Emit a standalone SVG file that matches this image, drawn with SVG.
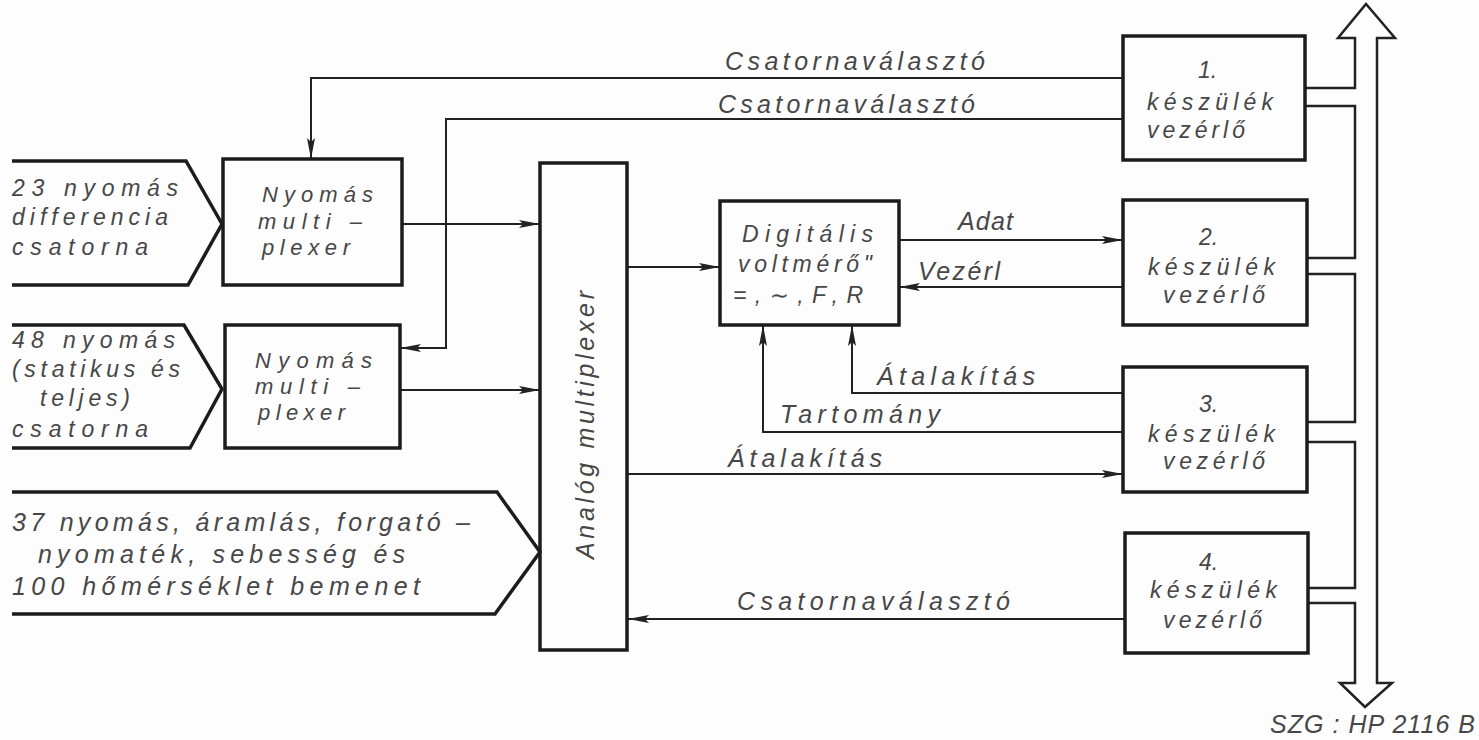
<svg xmlns="http://www.w3.org/2000/svg" width="1479" height="740" viewBox="0 0 1479 740">
<defs>
<style>
.box{fill:none;stroke:#1c1c1c;stroke-width:3.5}
.in{fill:none;stroke:#1c1c1c;stroke-width:3.5;stroke-linejoin:miter}
.c{fill:none;stroke:#222;stroke-width:2}
.bus{fill:none;stroke:#222;stroke-width:2.5;stroke-linejoin:miter}
text{font-family:"Liberation Sans","DejaVu Sans",sans-serif;font-style:italic;font-size:25px;fill:#474747}
.s{font-size:22px}
.m{font-size:23px}
</style>
<marker id="ar" markerUnits="userSpaceOnUse" markerWidth="22" markerHeight="10" refX="21" refY="4.5" orient="auto">
<path d="M0,0.5 L21,4.5 L0,8.5 L4,4.5 z" fill="#222"/>
</marker>
</defs>
<rect width="1479" height="740" fill="#fdfdfd"/>

<g id="connectors">
<path class="c" d="M402,224 H540" marker-end="url(#ar)"/>
<path class="c" d="M400,390 H540" marker-end="url(#ar)"/>
<path class="c" d="M627,267 H720" marker-end="url(#ar)"/>
<path class="c" d="M899,240 H1123" marker-end="url(#ar)"/>
<path class="c" d="M1123,287 H899" marker-end="url(#ar)"/>
<path class="c" d="M1123,393 H852 V325" marker-end="url(#ar)"/>
<path class="c" d="M1123,432 H763 V325" marker-end="url(#ar)"/>
<path class="c" d="M627,474 H1123" marker-end="url(#ar)"/>
<path class="c" d="M1125,619 H628" marker-end="url(#ar)"/>
<path class="c" d="M1123,78 H311 V159" marker-end="url(#ar)"/>
<path class="c" d="M1123,119 H446 V348 H400" marker-end="url(#ar)"/>
<text x="725" y="70" textLength="260" lengthAdjust="spacing">Csatornaválasztó</text>
<text x="718" y="113" textLength="257" lengthAdjust="spacing">Csatornaválasztó</text>
<text x="958" y="230" textLength="55" lengthAdjust="spacing">Adat</text>
<text x="918" y="280" textLength="82" lengthAdjust="spacing">Vezérl</text>
<text x="877" y="385" textLength="158" lengthAdjust="spacing">Átalakítás</text>
<text x="780" y="423" textLength="160" lengthAdjust="spacing">Tartomány</text>
<text x="728" y="467" textLength="154" lengthAdjust="spacing">Átalakítás</text>
<text x="737" y="610" textLength="273" lengthAdjust="spacing">Csatornaválasztó</text>
</g>

<g id="bus">
<path class="bus" d="M1305,88 H1355 V38 H1338 L1366,4 L1395,38 H1377 V683 H1392 L1365,707 L1340,683 H1355 V603 H1308"/>
<path class="bus" d="M1305,106 H1355 V258 H1307"/>
<path class="bus" d="M1307,274 H1355 V422 H1307"/>
<path class="bus" d="M1307,442 H1355 V588 H1308"/>
<text x="1270" y="733" textLength="205" lengthAdjust="spacing">SZG : HP 2116 B</text>
</g>

<g id="input1">
<path class="in" d="M12,161 H186 L222,224 L188,285 H12"/>
<text class="m" x="12" y="196" textLength="166" lengthAdjust="spacing">23 nyomás</text>
<text class="m" x="12" y="225" textLength="156" lengthAdjust="spacing">differencia</text>
<text class="m" x="12" y="255" textLength="136" lengthAdjust="spacing">csatorna</text>
</g>

<g id="input2">
<path class="in" d="M12,325 H184 L222,389 L190,448 H12"/>
<text class="m" x="12" y="348" textLength="163" lengthAdjust="spacing">48 nyomás</text>
<text class="m" x="12" y="377" textLength="168" lengthAdjust="spacing">(statikus és</text>
<text class="m" x="40" y="406" textLength="90" lengthAdjust="spacing">teljes)</text>
<text class="m" x="12" y="437" textLength="136" lengthAdjust="spacing">csatorna</text>
</g>

<g id="input3">
<path class="in" d="M12,492 H497 L540,552 L495,614 H12"/>
<text x="12" y="531" textLength="458" lengthAdjust="spacing">37 nyomás, áramlás, forgató –</text>
<text x="38" y="563" textLength="367" lengthAdjust="spacing">nyomaték, sebesség és</text>
<text x="12" y="595" textLength="408" lengthAdjust="spacing">100 hőmérséklet bemenet</text>
</g>

<g id="mux1">
<rect class="box" x="223" y="159" width="179" height="126"/>
<text class="s" x="262" y="202" textLength="111" lengthAdjust="spacing">Nyomás</text>
<text class="s" x="258" y="229" textLength="104" lengthAdjust="spacing">multi –</text>
<text class="s" x="262" y="255" textLength="88" lengthAdjust="spacing">plexer</text>
</g>

<g id="mux2">
<rect class="box" x="225" y="325" width="175" height="123"/>
<text class="s" x="255" y="368" textLength="117" lengthAdjust="spacing">Nyomás</text>
<text class="s" x="255" y="394" textLength="105" lengthAdjust="spacing">multi –</text>
<text class="s" x="258" y="420" textLength="87" lengthAdjust="spacing">plexer</text>
</g>

<g id="analog">
<rect class="box" x="540" y="163" width="87" height="487"/>
<text transform="translate(594,425) rotate(-90)" text-anchor="middle" textLength="268" lengthAdjust="spacing">Analóg multiplexer</text>
</g>

<g id="dvm">
<rect class="box" x="720" y="201" width="179" height="124"/>
<text class="m" x="742" y="242" textLength="131" lengthAdjust="spacing">Digitális</text>
<text class="m" x="738" y="272" textLength="134" lengthAdjust="spacing">voltmérő"</text>
<text class="m" x="733" y="303" textLength="130" lengthAdjust="spacing">=,∼,F,R</text>
</g>

<g id="dev1">
<rect class="box" x="1123" y="36" width="182" height="124"/>
<text class="m" x="1198" y="78">1.</text>
<text class="m" x="1147" y="110" textLength="126" lengthAdjust="spacing">készülék</text>
<text class="m" x="1147" y="138" textLength="98" lengthAdjust="spacing">vezérlő</text>
</g>

<g id="dev2">
<rect class="box" x="1123" y="200" width="184" height="125"/>
<text class="m" x="1199" y="245">2.</text>
<text class="m" x="1148" y="275" textLength="127" lengthAdjust="spacing">készülék</text>
<text class="m" x="1163" y="303" textLength="102" lengthAdjust="spacing">vezérlő</text>
</g>

<g id="dev3">
<rect class="box" x="1123" y="367" width="184" height="125"/>
<text class="m" x="1199" y="412">3.</text>
<text class="m" x="1148" y="442" textLength="127" lengthAdjust="spacing">készülék</text>
<text class="m" x="1163" y="469" textLength="102" lengthAdjust="spacing">vezérlő</text>
</g>

<g id="dev4">
<rect class="box" x="1125" y="533" width="183" height="120"/>
<text class="m" x="1199" y="570">4.</text>
<text class="m" x="1150" y="598" textLength="127" lengthAdjust="spacing">készülék</text>
<text class="m" x="1163" y="628" textLength="99" lengthAdjust="spacing">vezérlő</text>
</g>
</svg>
